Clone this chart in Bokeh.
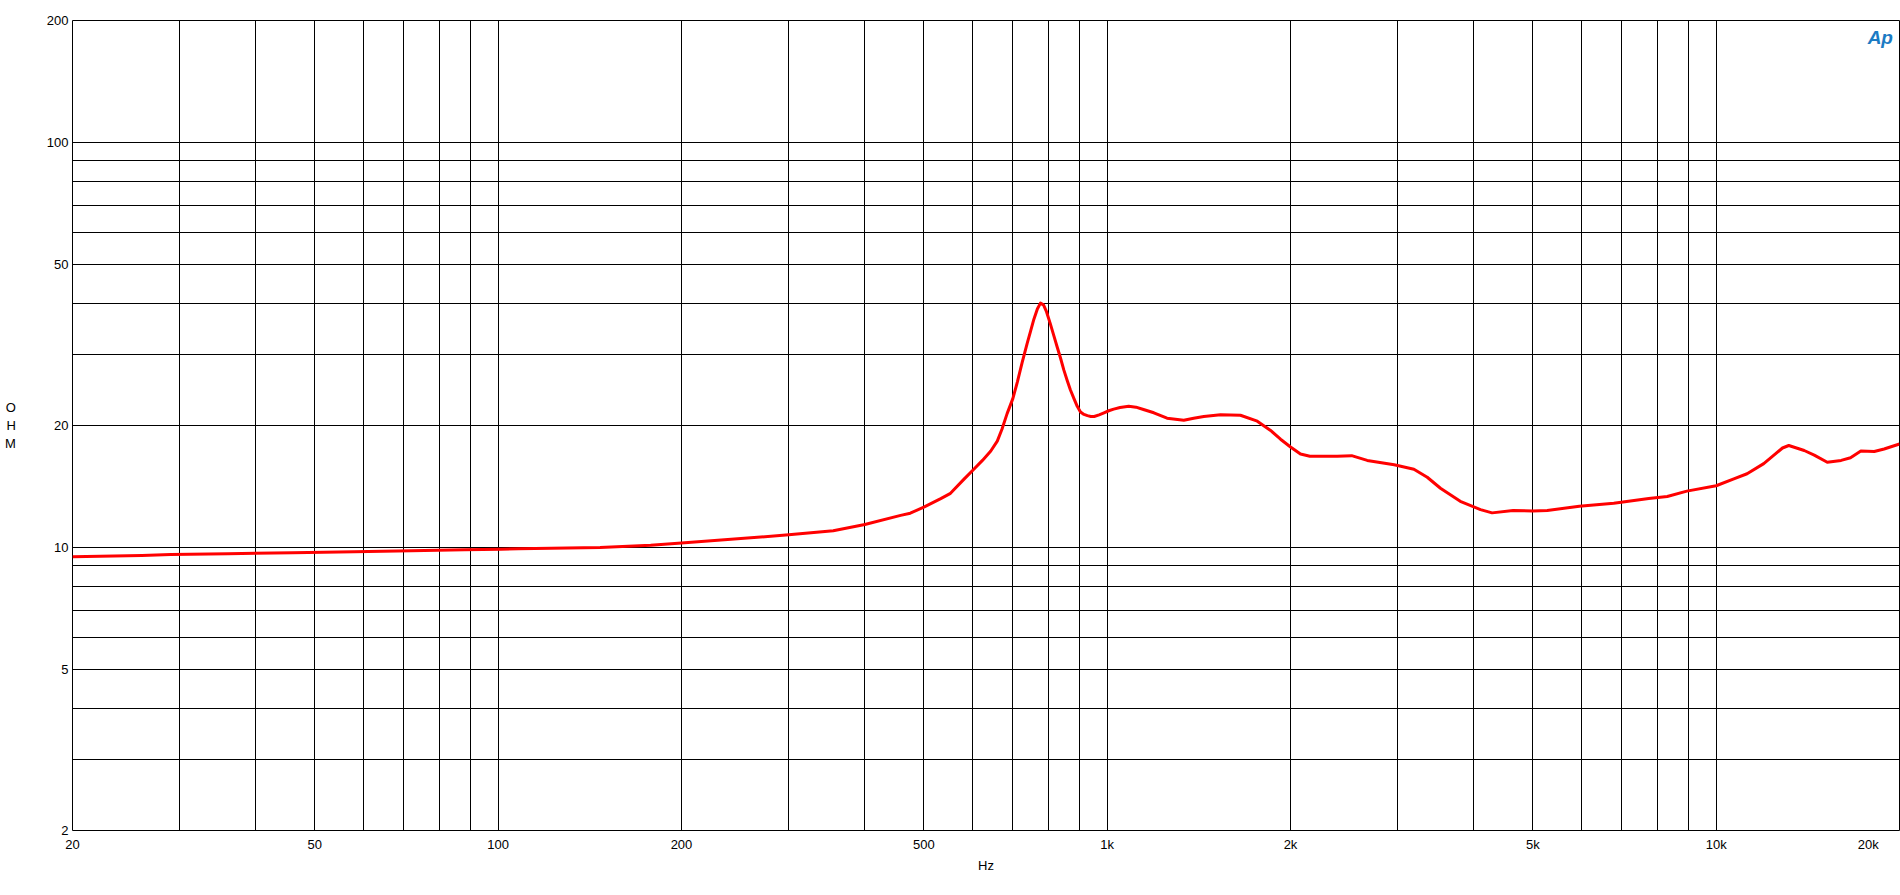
from bokeh.plotting import figure
from bokeh.models import Range1d, FixedTicker, Label
from bokeh.embed import file_html
from bokeh.resources import INLINE

# Impedance curve (Hz, Ohm)
freq_hz = [20, 26, 29, 36, 46, 58, 72, 88, 101, 108, 147, 178, 200, 300, 355, 400, 458, 475,
           500, 533, 553, 581, 604, 624, 644, 660, 672, 685, 700, 712, 725, 739, 749, 758, 768,
           777, 786, 795, 806, 818, 828, 838, 849, 860, 870, 882, 893, 904, 916, 928, 940, 952,
           970, 988, 1006, 1025, 1050, 1085, 1115, 1147, 1193, 1254, 1336, 1387, 1441, 1535,
           1655, 1764, 1855, 1926, 2000, 2077, 2152, 2386, 2520, 2673, 2960, 3189, 3354, 3526,
           3800, 4102, 4286, 4640, 5000, 5280, 5960, 6790, 7750, 8311, 8950, 10000, 10690,
           11240, 11970, 12440, 12850, 13160, 13950, 14490, 15220, 16040, 16620, 17280, 18180,
           18870, 20000]
impedance_ohm = [9.48, 9.55, 9.6, 9.65, 9.7, 9.76, 9.81, 9.87, 9.9, 9.92, 10.0, 10.13, 10.25,
                 10.74, 11.0, 11.39, 12.0, 12.15, 12.57, 13.2, 13.6, 14.7, 15.6, 16.4, 17.3,
                 18.3, 19.6, 21.4, 23.3, 25.6, 28.6, 31.9, 34.3, 36.6, 38.8, 40.1, 39.7, 38.2,
                 35.8, 33.2, 31.2, 29.4, 27.4, 25.8, 24.5, 23.3, 22.3, 21.6, 21.3, 21.15, 21.05,
                 21.05, 21.25, 21.5, 21.75, 21.95, 22.15, 22.3, 22.2, 21.9, 21.5, 20.85, 20.6,
                 20.85, 21.05, 21.25, 21.2, 20.5, 19.44, 18.5, 17.7, 17.0, 16.8, 16.8, 16.85,
                 16.4, 16.0, 15.6, 14.9, 14.0, 13.0, 12.4, 12.17, 12.33, 12.3, 12.33, 12.64,
                 12.85, 13.2, 13.36, 13.77, 14.2, 14.77, 15.2, 16.1, 16.9, 17.6, 17.85, 17.35,
                 16.9, 16.23, 16.4, 16.65, 17.3, 17.25, 17.5, 18.0]

x_label_ticks = [20, 50, 100, 200, 500, 1000, 2000, 5000, 10000, 20000]
x_label_texts = ["20", "50", "100", "200", "500", "1k", "2k", "5k", "10k", "20k"]
x_grid_ticks = [20, 30, 40, 50, 60, 70, 80, 90, 100, 200, 300, 400, 500, 600, 700, 800, 900,
                1000, 2000, 3000, 4000, 5000, 6000, 7000, 8000, 9000, 10000, 20000]
y_label_ticks = [2, 5, 10, 20, 50, 100, 200]
y_label_texts = ["2", "5", "10", "20", "50", "100", "200"]
y_grid_ticks = [2, 3, 4, 5, 6, 7, 8, 9, 10, 20, 30, 40, 50, 60, 70, 80, 90, 100, 200]

FONT = "Liberation Sans"
FS = "13px"

p = figure(width=1900, height=876, x_axis_type="log", y_axis_type="log",
           x_range=Range1d(20, 20000), y_range=Range1d(2, 200),
           output_backend="svg", toolbar_location=None,
           min_border_left=72, min_border_right=1, min_border_top=20, min_border_bottom=46)
p.background_fill_color = "white"
p.border_fill_color = "white"
p.outline_line_color = "black"
p.outline_line_width = 1

p.line(freq_hz, impedance_ohm, line_color="#ff0000", line_width=3, line_join="round")

# Grids
p.xgrid.ticker = FixedTicker(ticks=x_grid_ticks)
p.ygrid.ticker = FixedTicker(ticks=y_grid_ticks)
for g in (p.xgrid, p.ygrid):
    g.grid_line_color = "black"
    g.grid_line_width = 1
    g.grid_line_alpha = 1.0

# Axes
xa = p.xaxis[0]
xa.ticker = FixedTicker(ticks=x_label_ticks)
over = dict(zip(x_label_ticks, x_label_texts))
# keep the last label inside the page: pad with no-break spaces so it sits left of its tick
over[x_label_ticks[-1]] = x_label_texts[-1] + "\u00a0" * 6
xa.major_label_overrides = over
xa.axis_label = "Hz"
xa.axis_label_standoff = 3
xa.major_label_standoff = 6

ya = p.yaxis[0]
ya.ticker = FixedTicker(ticks=y_label_ticks)
ya.major_label_overrides = dict(zip(y_label_ticks, y_label_texts))
ya.axis_label = "O\nH\nM"
ya.axis_label_orientation = "horizontal"
ya.axis_label_standoff = 28
ya.major_label_standoff = 4

for ax in (xa, ya):
    ax.axis_line_color = None
    ax.major_tick_line_color = None
    ax.minor_tick_line_color = None
    ax.major_tick_out = 0
    ax.major_tick_in = 0
    ax.major_label_text_font = FONT
    ax.major_label_text_font_size = FS
    ax.major_label_text_color = "black"
    ax.axis_label_text_font = FONT
    ax.axis_label_text_font_size = FS
    ax.axis_label_text_font_style = "normal"
    ax.axis_label_text_color = "black"

# AP logo mark
p.add_layout(Label(x=18600, y=182, text="Ap", text_align="center", text_baseline="middle",
                   text_font=FONT, text_font_size="19px", text_font_style="bold italic",
                   text_color="#1b7bc4"))

open("out.html", "w").write(file_html(p, INLINE))
